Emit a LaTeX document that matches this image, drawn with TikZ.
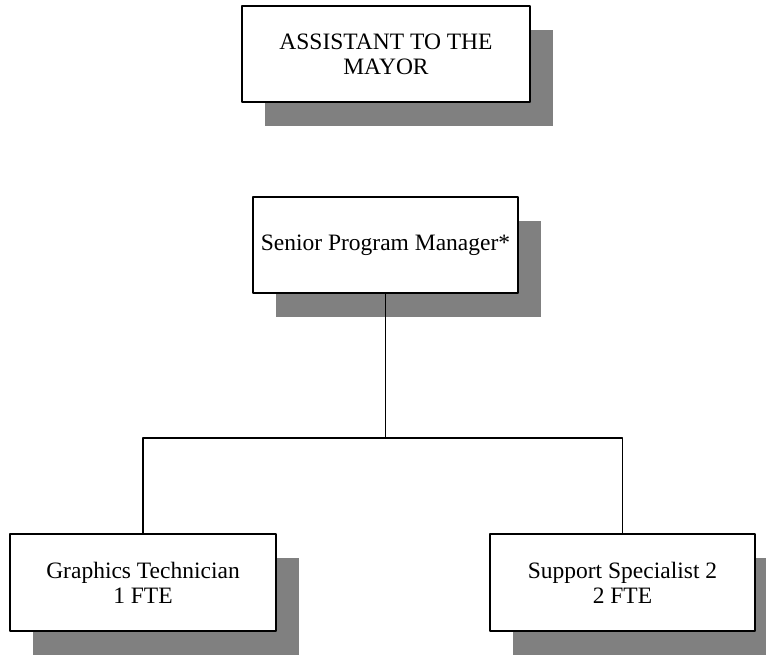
\documentclass[tikz,border=0pt]{standalone}
\usepackage{fontspec}
\setmainfont{Liberation Serif}
\usetikzlibrary{shadows}
\begin{document}
\begin{tikzpicture}[x=1pt,y=-1pt,line join = round, line cap = round,
	font=\fontsize{23.5}{25}\selectfont,
	post/.style={draw,line width=1.7pt,fill=white,align=center,inner sep=0pt,
		drop shadow={shadow xshift=23pt,shadow yshift=-24pt,fill=black!50,opacity=1}},
	link/.style={line width=1.8pt}]
			\def \barlevel{438};
			\useasboundingbox (0,0) rectangle (766,655);
			\node[post,minimum width=288,minimum height=96] (atm) at (386,54) {ASSISTANT TO THE\\MAYOR};
			\node[post,minimum width=265,minimum height=96] (spm) at (385.5,245) {Senior Program Manager*};
			\node[post,minimum width=266,minimum height=97] (gt) at (143,582.5) {Graphics Technician\\1 FTE};
			\node[post,minimum width=265,minimum height=97] (ss) at (622.5,582.5) {Support Specialist 2\\2 FTE};
			\coordinate (bar) at (385.5,\barlevel);
			\draw[link] (spm.south) -- (bar);
			\draw[link] (gt.north) |- (bar) -| (ss.north);
		\end{tikzpicture}
\end{document}
